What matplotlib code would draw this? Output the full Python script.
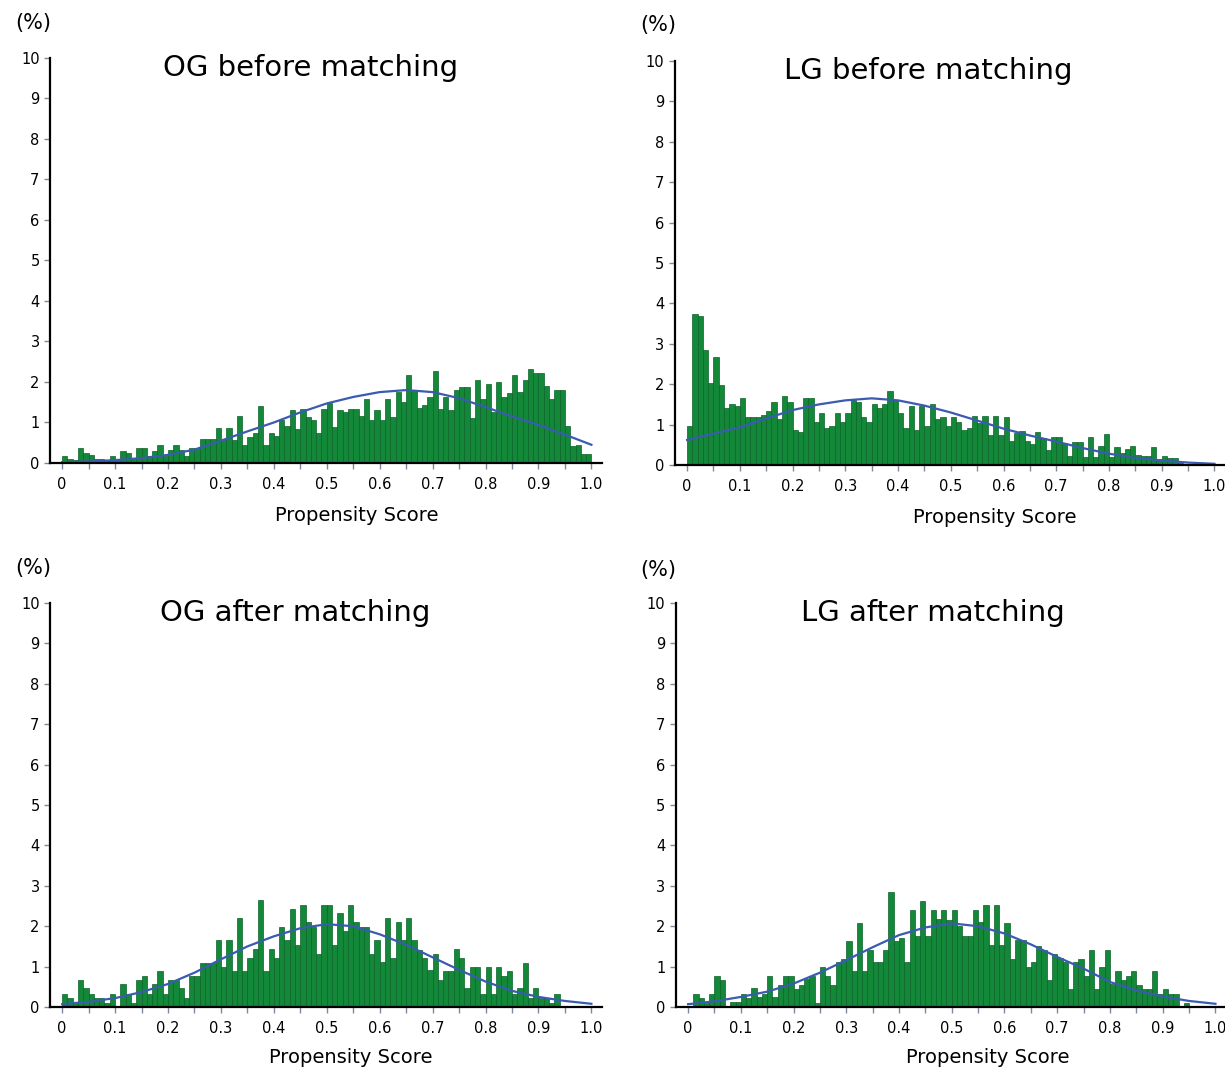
import matplotlib
matplotlib.use("Agg")
import matplotlib.pyplot as plt
import numpy as np

# Histogram heights (%) for bins of width 0.01
og_before = [
    0.17, 0.11, 0.07, 0.36, 0.25, 0.19, 0.11, 0.11, 0.08, 0.17,
    0.08, 0.30, 0.25, 0.11, 0.36, 0.38, 0.17, 0.30, 0.44, 0.17,
    0.33, 0.44, 0.32, 0.17, 0.38, 0.38, 0.58, 0.58, 0.58, 0.86,
    0.57, 0.86, 0.57, 1.17, 0.44, 0.63, 0.75, 1.40, 0.44, 0.75,
    0.67, 1.05, 0.92, 1.30, 0.83, 1.33, 1.13, 1.07, 0.75, 1.33,
    1.47, 0.90, 1.30, 1.25, 1.33, 1.33, 1.17, 1.57, 1.05, 1.30,
    1.05, 1.58, 1.13, 1.75, 1.50, 2.17, 1.78, 1.36, 1.42, 1.63,
    2.28, 1.33, 1.63, 1.30, 1.80, 1.88, 1.88, 1.10, 2.05, 1.58,
    1.94, 1.25, 2.00, 1.63, 1.72, 2.17, 1.75, 2.05, 2.33, 2.22,
    2.22, 1.90, 1.58, 1.80, 1.80, 0.92, 0.42, 0.44, 0.23, 0.23,
]
lg_before = [
    0.96, 3.74, 3.69, 2.84, 2.03, 2.67, 1.98, 1.40, 1.50, 1.46,
    1.66, 1.19, 1.19, 1.19, 1.23, 1.34, 1.56, 1.13, 1.71, 1.56,
    0.86, 0.82, 1.66, 1.66, 1.07, 1.29, 0.92, 0.96, 1.29, 1.07,
    1.29, 1.60, 1.56, 1.19, 1.07, 1.50, 1.40, 1.50, 1.83, 1.60,
    1.29, 0.92, 1.46, 0.86, 1.46, 0.96, 1.50, 1.13, 1.19, 0.96,
    1.19, 1.07, 0.86, 0.92, 1.21, 1.03, 1.22, 0.74, 1.22, 0.74,
    1.18, 0.59, 0.78, 0.85, 0.59, 0.52, 0.81, 0.68, 0.37, 0.70,
    0.70, 0.55, 0.22, 0.58, 0.58, 0.21, 0.70, 0.21, 0.47, 0.76,
    0.21, 0.45, 0.30, 0.39, 0.48, 0.26, 0.23, 0.23, 0.45, 0.14,
    0.23, 0.17, 0.17, 0.06, 0.03, 0.02, 0.02, 0.01, 0.01, 0.01,
]
og_after = [
    0.33, 0.23, 0.10, 0.67, 0.46, 0.33, 0.23, 0.23, 0.10, 0.33,
    0.02, 0.56, 0.33, 0.10, 0.67, 0.77, 0.33, 0.56, 0.90, 0.33,
    0.67, 0.67, 0.46, 0.23, 0.77, 0.77, 1.10, 1.10, 1.10, 1.65,
    1.00, 1.65, 0.90, 2.20, 0.90, 1.21, 1.43, 2.65, 0.90, 1.43,
    1.21, 1.98, 1.65, 2.42, 1.54, 2.53, 2.10, 1.98, 1.32, 2.53,
    2.53, 1.54, 2.32, 1.88, 2.53, 2.10, 1.98, 1.98, 1.32, 1.65,
    1.12, 2.20, 1.21, 2.10, 1.65, 2.20, 1.65, 1.42, 1.21, 0.92,
    1.32, 0.68, 0.90, 0.90, 1.43, 1.21, 0.46, 1.00, 1.00, 0.33,
    1.00, 0.33, 1.00, 0.77, 0.90, 0.33, 0.46, 1.10, 0.23, 0.46,
    0.23, 0.23, 0.10, 0.33, 0.00, 0.00, 0.00, 0.00, 0.00, 0.00,
]
lg_after = [
    0.03, 0.33, 0.23, 0.10, 0.33, 0.76, 0.66, 0.02, 0.12, 0.12,
    0.33, 0.23, 0.47, 0.26, 0.33, 0.76, 0.25, 0.55, 0.76, 0.76,
    0.45, 0.55, 0.70, 0.76, 0.10, 0.99, 0.76, 0.55, 1.12, 1.20,
    1.64, 0.89, 2.09, 0.89, 1.42, 1.12, 1.12, 1.42, 2.85, 1.64,
    1.72, 1.12, 2.40, 1.75, 2.62, 1.75, 2.40, 2.19, 2.40, 2.15,
    2.40, 2.00, 1.75, 1.75, 2.40, 2.10, 2.52, 1.53, 2.52, 1.53,
    2.08, 1.20, 1.65, 1.65, 0.99, 1.12, 1.50, 1.40, 0.66, 1.32,
    1.22, 1.12, 0.45, 1.12, 1.20, 0.76, 1.42, 0.45, 0.99, 1.42,
    0.58, 0.89, 0.66, 0.76, 0.89, 0.55, 0.45, 0.45, 0.89, 0.33,
    0.45, 0.33, 0.33, 0.02, 0.10, 0.00, 0.00, 0.00, 0.00, 0.00,
]

# Fitted curves, read at every 0.05 of the propensity score
curve_x = [0.00, 0.05, 0.10, 0.15, 0.20, 0.25, 0.30, 0.35, 0.40, 0.45, 0.50,
           0.55, 0.60, 0.65, 0.70, 0.75, 0.80, 0.85, 0.90, 0.95, 1.00]
og_before_curve = [0.02, 0.04, 0.07, 0.12, 0.20, 0.33, 0.55, 0.78, 1.00, 1.25, 1.47,
                   1.63, 1.75, 1.80, 1.75, 1.60, 1.38, 1.15, 0.94, 0.70, 0.45]
lg_before_curve = [0.62, 0.78, 0.93, 1.15, 1.36, 1.50, 1.60, 1.65, 1.60, 1.47, 1.30,
                   1.10, 0.90, 0.73, 0.58, 0.42, 0.28, 0.18, 0.11, 0.06, 0.03]
og_after_curve = [0.07, 0.13, 0.22, 0.37, 0.57, 0.85, 1.18, 1.50, 1.75, 1.95, 2.05,
                  2.00, 1.80, 1.54, 1.23, 0.92, 0.63, 0.40, 0.25, 0.15, 0.08]
lg_after_curve = [0.07, 0.14, 0.25, 0.38, 0.58, 0.85, 1.16, 1.48, 1.78, 1.97, 2.07,
                  2.00, 1.82, 1.55, 1.24, 0.95, 0.62, 0.41, 0.26, 0.15, 0.08]

titles = ["OG before matching", "LG before matching",
          "OG after matching", "LG after matching"]
bin_width = 0.01
x_ticks = [0, 0.1, 0.2, 0.3, 0.4, 0.5, 0.6, 0.7, 0.8, 0.9, 1.0]
x_tick_labels = ["0", "0.1", "0.2", "0.3", "0.4", "0.5", "0.6", "0.7", "0.8", "0.9", "1.0"]

BAR_COLOR = "#138838"
LINE_COLOR = "#3a5bb0"


def draw_panel(ax, heights, curve, title, title_x):
    edges = np.arange(len(heights)) * bin_width
    ax.bar(edges, heights, width=bin_width, align="edge",
           color=BAR_COLOR, edgecolor="#0b6229", linewidth=0.5)
    ax.plot(curve_x, curve, color=LINE_COLOR, linewidth=1.6)

    ax.set_xlim(-0.023, 1.02)
    ax.set_ylim(0, 10)
    ax.set_yticks(range(11))
    ax.set_xticks(x_ticks)
    ax.set_xticklabels(x_tick_labels)
    ax.set_xticks(np.arange(0.05, 1.0, 0.1), minor=True)
    ax.tick_params(axis="both", which="both", direction="out", length=4,
                   width=1, labelsize=10.5, color="#7d8a99")
    ax.tick_params(axis="x", pad=6)

    # only left and bottom axis lines
    for side in ["top", "right"]:
        ax.spines[side].set_visible(False)
    for side in ["left", "bottom"]:
        ax.spines[side].set_linewidth(1.6)
        ax.spines[side].set_color("black")

    ax.text(title_x, 9.75, title, fontsize=21, ha="center", va="center")


fig = plt.figure(figsize=(12.25, 10.68), dpi=100)

# axes positions in figure fraction: left, bottom, width, height
positions = [[0.0408, 0.5665, 0.4506, 0.3792],
             [0.5510, 0.5646, 0.4490, 0.3783],
             [0.0408, 0.0571, 0.4506, 0.3783],
             [0.5518, 0.0571, 0.4490, 0.3783]]
data = [og_before, lg_before, og_after, lg_after]
curves = [og_before_curve, lg_before_curve, og_after_curve, lg_after_curve]
title_xs = [0.47, 0.457, 0.44, 0.464]

for pos, heights, curve, title, tx in zip(positions, data, curves, titles, title_xs):
    ax = fig.add_axes(pos)
    draw_panel(ax, heights, curve, title, tx)

# "(%)" labels and x axis labels
for x, y in [(0.027, 0.978), (0.537, 0.977), (0.027, 0.468), (0.537, 0.466)]:
    fig.text(x, y, "(%)", fontsize=15, ha="center", va="center")
for x, y in [(0.291, 0.517), (0.812, 0.515), (0.286, 0.010), (0.806, 0.010)]:
    fig.text(x, y, "Propensity Score", fontsize=14, ha="center", va="center")

fig.savefig("out.png", dpi=100, facecolor="white")
